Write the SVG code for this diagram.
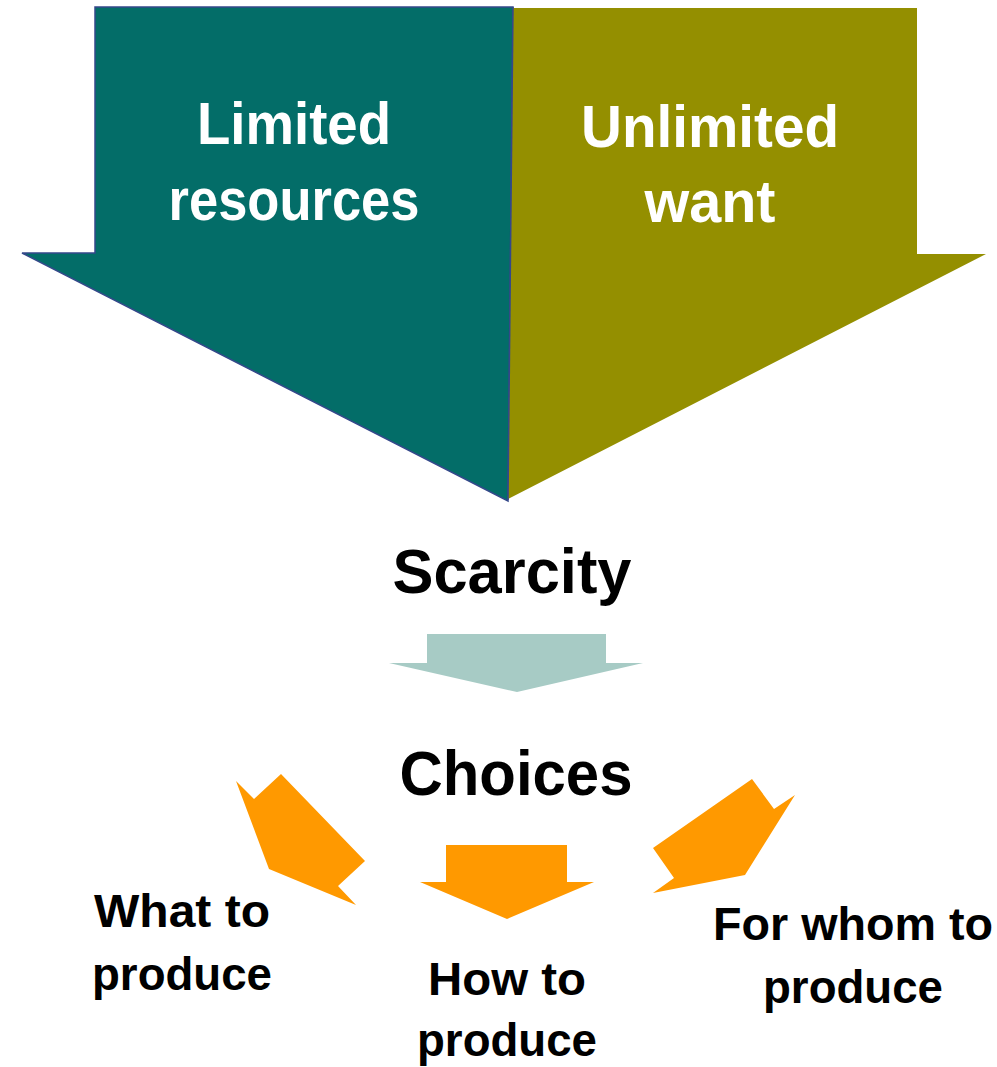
<svg xmlns="http://www.w3.org/2000/svg" width="997" height="1067" viewBox="0 0 997 1067">
<style>
.w{font-family:"Liberation Sans",Arial,sans-serif;font-weight:bold;fill:#ffffff;font-size:59px;text-anchor:middle}
.k{font-family:"Liberation Sans",Arial,sans-serif;font-weight:bold;fill:#000000;text-anchor:middle}
.big{font-size:63px}
.sm{font-size:47px}
.or{fill:#FF9900}
</style>
<rect width="997" height="1067" fill="#ffffff"/>
<g id="limited">
<polygon points="95,7 513,7 508,501 22,253 95,253" fill="#036D68" stroke="#34488A" stroke-width="1.5"/>
<text class="w" x="294" y="144" textLength="194" lengthAdjust="spacingAndGlyphs">Limited</text>
<text class="w" x="294" y="220" textLength="251" lengthAdjust="spacingAndGlyphs">resources</text>
</g>
<g id="unlimited">
<polygon points="513,8 917,8 917,254 986,254 508,499" fill="#948F00"/>
<line x1="513" y1="7" x2="508" y2="500" stroke="#34488A" stroke-width="1.5"/>
<text class="w" x="710" y="147" textLength="258" lengthAdjust="spacingAndGlyphs">Unlimited</text>
<text class="w" x="710" y="222" textLength="131" lengthAdjust="spacingAndGlyphs">want</text>
</g>
<g id="scarcity">
<text class="k big" x="512" y="593" textLength="239" lengthAdjust="spacingAndGlyphs">Scarcity</text>
</g>
<g id="choices">
<text class="k big" x="516" y="795" textLength="233" lengthAdjust="spacingAndGlyphs">Choices</text>
</g>
<g id="what">
<text class="k sm" x="182" y="927" textLength="176" lengthAdjust="spacingAndGlyphs">What to</text>
<text class="k sm" x="182" y="990" textLength="180" lengthAdjust="spacingAndGlyphs">produce</text>
</g>
<g id="how">
<text class="k sm" x="507" y="995" textLength="158" lengthAdjust="spacingAndGlyphs">How to</text>
<text class="k sm" x="507" y="1056" textLength="180" lengthAdjust="spacingAndGlyphs">produce</text>
</g>
<g id="forwhom">
<text class="k sm" x="853" y="940" textLength="280" lengthAdjust="spacingAndGlyphs">For whom to</text>
<text class="k sm" x="853" y="1003" textLength="180" lengthAdjust="spacingAndGlyphs">produce</text>
</g>
<g id="connectors">
<polygon points="427,634 606,634 606,663 643,663 517,692 389,663 427,663" fill="#A7CBC5"/>
<polygon class="or" points="236,781 254,799 281,774 365,861 338,886 356,905 269,869"/>
<polygon class="or" points="446,845 567,845 567,882 594,882 507,919 420,882 446,882"/>
<polygon class="or" points="752,779 774,809 795,795 745,875 653,893 674,878 653,848"/>
</g>
</svg>
